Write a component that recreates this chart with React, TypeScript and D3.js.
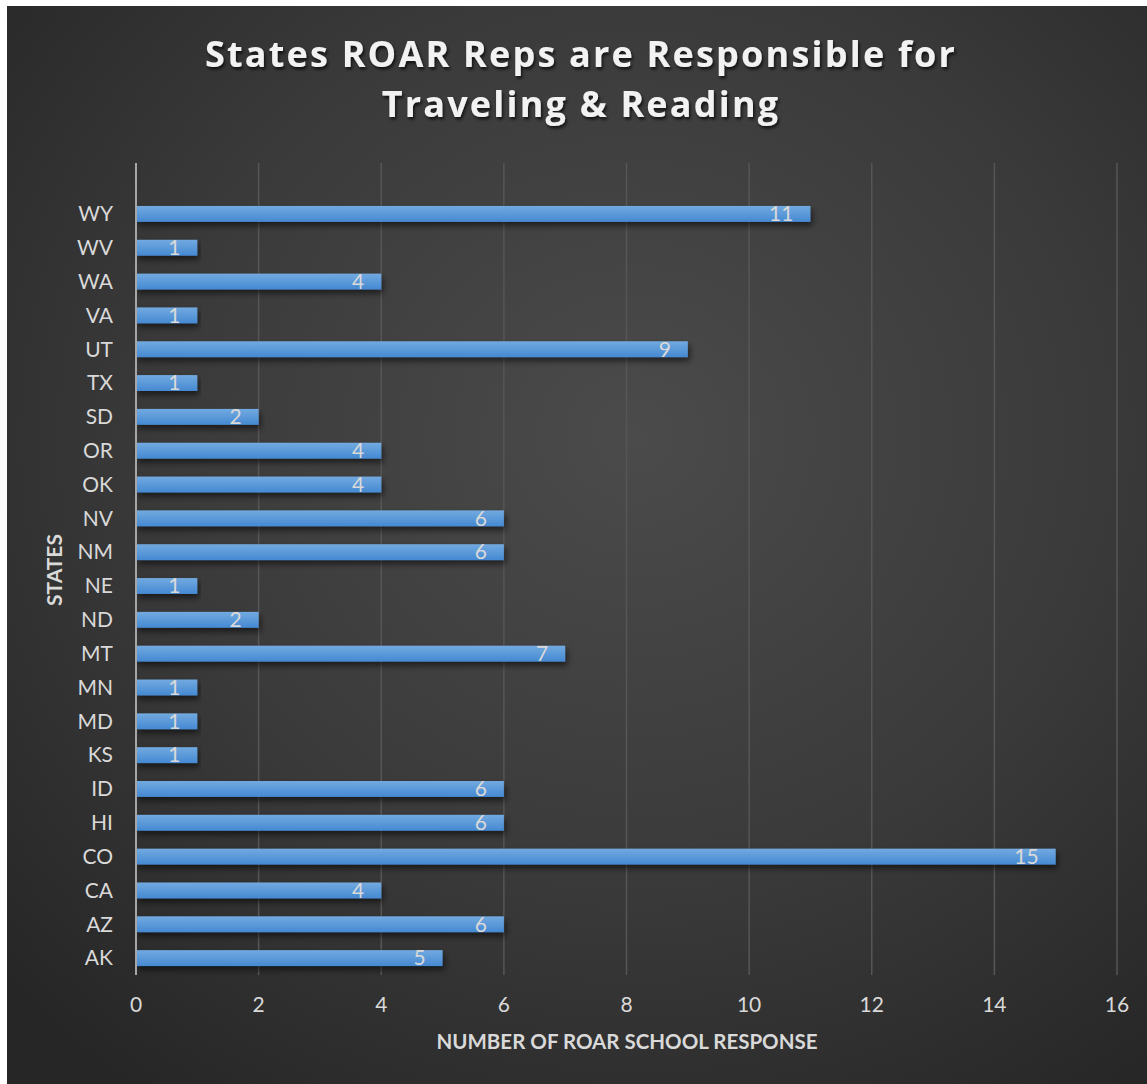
import React from "react";
import * as d3 from "d3";

// top to bottom, as drawn
const states = [
  "WY", "WV", "WA", "VA", "UT", "TX", "SD", "OR", "OK", "NV", "NM", "NE",
  "ND", "MT", "MN", "MD", "KS", "ID", "HI", "CO", "CA", "AZ", "AK",
];
const responses = [11, 1, 4, 1, 9, 1, 2, 4, 4, 6, 6, 1, 2, 7, 1, 1, 1, 6, 6, 15, 4, 6, 5];
const xTicks = [0, 2, 4, 6, 8, 10, 12, 14, 16];

const titleLines = ["States ROAR Reps are Responsible for", "Traveling & Reading"];
const xTitle = "NUMBER OF ROAR SCHOOL RESPONSE";
const yTitle = "STATES";

const W = 1147;
const H = 1084;
const TITLE_FONT = "'Open Sans', 'DejaVu Sans', sans-serif";
const FONT = "Lato, 'Open Sans', sans-serif";

const App: React.FC = () => {
  const x = d3.scaleLinear().domain([0, 16]).range([136, 1117]);
  const y = d3.scaleBand<string>().domain(states).range([197, 975]).paddingInner(0.53).paddingOuter(0.265);
  const gridTop = 163;
  const gridBottom = 975;

  return (
    <div style={{ position: "absolute", left: 0, top: 0 }}>
      <svg width={W} height={H} style={{ display: "block" }}>
        <defs>
          <radialGradient id="bg" cx="0.55" cy="0.4" r="0.75">
            <stop offset="0" stopColor="#4b4b4b" />
            <stop offset="0.55" stopColor="#3a3a3a" />
            <stop offset="1" stopColor="#262626" />
          </radialGradient>
          <linearGradient id="bar" x1="0" y1="0" x2="0" y2="1">
            <stop offset="0" stopColor="#72aae0" />
            <stop offset="1" stopColor="#4589d2" />
          </linearGradient>
          <filter id="shadow" x="-5%" y="-50%" width="110%" height="250%">
            <feDropShadow dx="2" dy="4" stdDeviation="3" floodColor="#000" floodOpacity="0.55" />
          </filter>
          <filter id="tshadow" x="-5%" y="-30%" width="110%" height="160%">
            <feDropShadow dx="1.5" dy="2.5" stdDeviation="1.5" floodColor="#000" floodOpacity="0.7" />
          </filter>
        </defs>
        <rect x={7} y={6} width={W - 7} height={H - 6} fill="url(#bg)" />

        {/* title */}
        <g filter="url(#tshadow)">
          {titleLines.map((t, i) => (
            <text
              key={t}
              x={581}
              y={67 + i * 50}
              textAnchor="middle"
              fill="#f2f2f2"
              fontFamily={TITLE_FONT}
              fontWeight={700}
              fontSize={36}
              letterSpacing={2.2}
            >
              {t}
            </text>
          ))}
        </g>

        {/* gridlines */}
        {xTicks.slice(1).map(t => (
          <line key={t} x1={x(t)} x2={x(t)} y1={gridTop} y2={gridBottom} stroke="#565656" strokeWidth={1.5} />
        ))}

        {/* bars */}
        {states.map((s, i) => (
          <rect
            key={s}
            x={x(0)}
            y={y(s)}
            width={x(responses[i]) - x(0)}
            height={y.bandwidth()}
            fill="url(#bar)"
            filter="url(#shadow)"
          />
        ))}

        {/* axis line */}
        <line x1={x(0)} x2={x(0)} y1={gridTop} y2={gridBottom} stroke="#a6a6a6" strokeWidth={2} />

        {/* data labels */}
        {states.map((s, i) => (
          <text
            key={s}
            x={x(responses[i]) - 17}
            y={(y(s) as number) + y.bandwidth() / 2 + 2}
            textAnchor="end"
            dominantBaseline="middle"
            fill="#d9d9d9"
            fontFamily={FONT}
            fontSize={21}
          >
            {responses[i]}
          </text>
        ))}

        {/* y tick labels */}
        {states.map(s => (
          <text
            key={s}
            x={113}
            y={(y(s) as number) + y.bandwidth() / 2 + 2}
            textAnchor="end"
            dominantBaseline="middle"
            fill="#d9d9d9"
            fontFamily={FONT}
            fontSize={21}
          >
            {s}
          </text>
        ))}

        {/* x tick labels */}
        {xTicks.map(t => (
          <text
            key={t}
            x={x(t)}
            y={1007}
            textAnchor="middle"
            dominantBaseline="middle"
            fill="#d9d9d9"
            fontFamily={FONT}
            fontSize={21}
          >
            {t}
          </text>
        ))}

        {/* axis titles */}
        <text
          x={627}
          y={1044}
          textAnchor="middle"
          dominantBaseline="middle"
          fill="#d9d9d9"
          fontFamily={FONT}
          fontWeight={700}
          fontSize={20.5}
        >
          {xTitle}
        </text>
        <text
          transform={`translate(57,${570}) rotate(-90)`}
          textAnchor="middle"
          dominantBaseline="middle"
          fill="#d9d9d9"
          fontFamily={FONT}
          fontWeight={700}
          fontSize={21}
        >
          {yTitle}
        </text>
      </svg>
    </div>
  );
};

export default App;
